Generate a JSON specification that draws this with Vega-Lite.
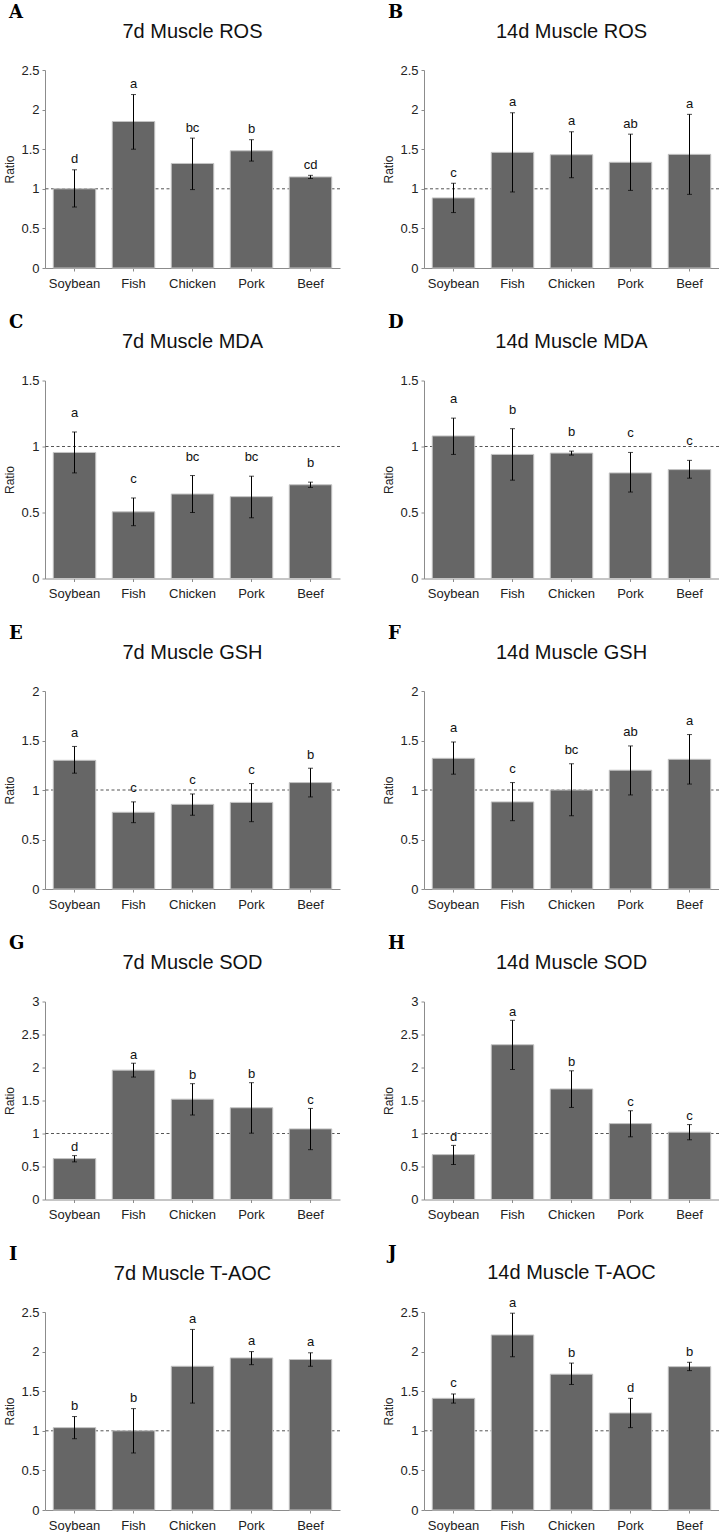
{
"$schema": "https://vega.github.io/schema/vega-lite/v6.json",
"padding": {"left": 3, "top": 3, "right": 0, "bottom": 0},
"datasets": {"d": [
{"p":"A","g":"Soybean","m":1.00,"lo":0.77,"hi":1.24,"t":"d"},
{"p":"A","g":"Fish","m":1.85,"lo":1.50,"hi":2.19,"t":"a"},
{"p":"A","g":"Chicken","m":1.32,"lo":0.99,"hi":1.64,"t":"bc"},
{"p":"A","g":"Pork","m":1.48,"lo":1.35,"hi":1.62,"t":"b"},
{"p":"A","g":"Beef","m":1.15,"lo":1.13,"hi":1.17,"t":"cd"},
{"p":"B","g":"Soybean","m":0.885,"lo":0.70,"hi":1.07,"t":"c"},
{"p":"B","g":"Fish","m":1.46,"lo":0.96,"hi":1.96,"t":"a"},
{"p":"B","g":"Chicken","m":1.43,"lo":1.14,"hi":1.72,"t":"a"},
{"p":"B","g":"Pork","m":1.335,"lo":0.98,"hi":1.69,"t":"ab"},
{"p":"B","g":"Beef","m":1.435,"lo":0.93,"hi":1.94,"t":"a"},
{"p":"C","g":"Soybean","m":0.955,"lo":0.80,"hi":1.11,"t":"a"},
{"p":"C","g":"Fish","m":0.505,"lo":0.40,"hi":0.61,"t":"c"},
{"p":"C","g":"Chicken","m":0.64,"lo":0.50,"hi":0.78,"t":"bc"},
{"p":"C","g":"Pork","m":0.62,"lo":0.46,"hi":0.775,"t":"bc"},
{"p":"C","g":"Beef","m":0.71,"lo":0.69,"hi":0.73,"t":"b"},
{"p":"D","g":"Soybean","m":1.08,"lo":0.94,"hi":1.215,"t":"a"},
{"p":"D","g":"Fish","m":0.94,"lo":0.745,"hi":1.135,"t":"b"},
{"p":"D","g":"Chicken","m":0.95,"lo":0.935,"hi":0.965,"t":"b"},
{"p":"D","g":"Pork","m":0.80,"lo":0.655,"hi":0.955,"t":"c"},
{"p":"D","g":"Beef","m":0.825,"lo":0.76,"hi":0.895,"t":"c"},
{"p":"E","g":"Soybean","m":1.30,"lo":1.17,"hi":1.44,"t":"a"},
{"p":"E","g":"Fish","m":0.775,"lo":0.67,"hi":0.88,"t":"c"},
{"p":"E","g":"Chicken","m":0.855,"lo":0.745,"hi":0.96,"t":"c"},
{"p":"E","g":"Pork","m":0.875,"lo":0.68,"hi":1.065,"t":"c"},
{"p":"E","g":"Beef","m":1.075,"lo":0.93,"hi":1.22,"t":"b"},
{"p":"F","g":"Soybean","m":1.32,"lo":1.16,"hi":1.485,"t":"a"},
{"p":"F","g":"Fish","m":0.88,"lo":0.69,"hi":1.075,"t":"c"},
{"p":"F","g":"Chicken","m":1.00,"lo":0.74,"hi":1.265,"t":"bc"},
{"p":"F","g":"Pork","m":1.20,"lo":0.95,"hi":1.445,"t":"ab"},
{"p":"F","g":"Beef","m":1.31,"lo":1.06,"hi":1.56,"t":"a"},
{"p":"G","g":"Soybean","m":0.62,"lo":0.57,"hi":0.665,"t":"d"},
{"p":"G","g":"Fish","m":1.96,"lo":1.855,"hi":2.065,"t":"a"},
{"p":"G","g":"Chicken","m":1.52,"lo":1.28,"hi":1.755,"t":"b"},
{"p":"G","g":"Pork","m":1.39,"lo":1.005,"hi":1.77,"t":"b"},
{"p":"G","g":"Beef","m":1.07,"lo":0.755,"hi":1.38,"t":"c"},
{"p":"H","g":"Soybean","m":0.68,"lo":0.53,"hi":0.82,"t":"d"},
{"p":"H","g":"Fish","m":2.345,"lo":1.97,"hi":2.715,"t":"a"},
{"p":"H","g":"Chicken","m":1.675,"lo":1.395,"hi":1.95,"t":"b"},
{"p":"H","g":"Pork","m":1.15,"lo":0.95,"hi":1.345,"t":"c"},
{"p":"H","g":"Beef","m":1.02,"lo":0.905,"hi":1.135,"t":"c"},
{"p":"I","g":"Soybean","m":1.04,"lo":0.90,"hi":1.18,"t":"b"},
{"p":"I","g":"Fish","m":1.00,"lo":0.72,"hi":1.28,"t":"b"},
{"p":"I","g":"Chicken","m":1.815,"lo":1.35,"hi":2.28,"t":"a"},
{"p":"I","g":"Pork","m":1.92,"lo":1.835,"hi":2.00,"t":"a"},
{"p":"I","g":"Beef","m":1.90,"lo":1.815,"hi":1.985,"t":"a"},
{"p":"J","g":"Soybean","m":1.41,"lo":1.35,"hi":1.465,"t":"c"},
{"p":"J","g":"Fish","m":2.21,"lo":1.935,"hi":2.485,"t":"a"},
{"p":"J","g":"Chicken","m":1.715,"lo":1.585,"hi":1.855,"t":"b"},
{"p":"J","g":"Pork","m":1.225,"lo":1.04,"hi":1.41,"t":"d"},
{"p":"J","g":"Beef","m":1.81,"lo":1.76,"hi":1.865,"t":"b"}
]},
"data": {"name": "d"},
"columns": 2,
"spacing": {"row": 23.5, "column": 41},
"concat": [
{"title": {"text": "A", "font": "DejaVu Serif", "fontWeight": "bold", "fontSize": 18, "anchor": "start", "frame": "bounds", "offset": 0, "dx": 5, "color": "#000"}, "vconcat": [{"title": {"text": "7d Muscle ROS"}, "width": 295, "height": 198, "transform": [{"filter": "datum.p === 'A'"}], "layer": [
 {"transform": [{"filter": "datum.g === 'Soybean'"}], "mark": {"type": "rule", "strokeDash": [3,2.5], "color": "#555", "strokeWidth": 1}, "encoding": {"y": {"datum": 1, "type": "quantitative", "title": "Ratio", "scale": {"domain": [0,2.5], "nice": false}, "axis": {"values": [0,0.5,1,1.5,2,2.5], "format": "~g"}}}},
 {"mark": {"type": "bar", "color": "#666666", "stroke": "#c4c4c4", "strokeWidth": 1}, "encoding": {"x": {"field": "g", "type": "nominal", "sort": ["Soybean","Fish","Chicken","Pork","Beef"], "title": null, "scale": {"paddingInner": 0.28, "paddingOuter": 0.14}}, "y": {"field": "m", "type": "quantitative", "title": "Ratio", "scale": {"domain": [0,2.5], "nice": false}, "axis": {"values": [0,0.5,1,1.5,2,2.5], "format": "~g"}}}},
 {"mark": {"type": "errorbar", "color": "#000", "ticks": {"size": 5, "color": "#000"}}, "encoding": {"x": {"field": "g", "type": "nominal", "sort": ["Soybean","Fish","Chicken","Pork","Beef"], "title": null}, "y": {"field": "lo", "type": "quantitative", "title": "Ratio", "scale": {"domain": [0,2.5], "nice": false}, "axis": {"values": [0,0.5,1,1.5,2,2.5], "format": "~g"}}, "y2": {"field": "hi"}}},
 {"mark": {"type": "text", "baseline": "alphabetic", "dy": -6.5, "fontSize": 13, "color": "#111"}, "encoding": {"x": {"field": "g", "type": "nominal", "sort": ["Soybean","Fish","Chicken","Pork","Beef"], "title": null}, "y": {"field": "hi", "type": "quantitative", "title": "Ratio", "scale": {"domain": [0,2.5], "nice": false}, "axis": {"values": [0,0.5,1,1.5,2,2.5], "format": "~g"}}, "text": {"field": "t"}}}
]}]},
{"title": {"text": "B", "font": "DejaVu Serif", "fontWeight": "bold", "fontSize": 18, "anchor": "start", "frame": "bounds", "offset": 0, "dx": 5, "color": "#000"}, "vconcat": [{"title": {"text": "14d Muscle ROS"}, "width": 295, "height": 198, "transform": [{"filter": "datum.p === 'B'"}], "layer": [
 {"transform": [{"filter": "datum.g === 'Soybean'"}], "mark": {"type": "rule", "strokeDash": [3,2.5], "color": "#555", "strokeWidth": 1}, "encoding": {"y": {"datum": 1, "type": "quantitative", "title": "Ratio", "scale": {"domain": [0,2.5], "nice": false}, "axis": {"values": [0,0.5,1,1.5,2,2.5], "format": "~g"}}}},
 {"mark": {"type": "bar", "color": "#666666", "stroke": "#c4c4c4", "strokeWidth": 1}, "encoding": {"x": {"field": "g", "type": "nominal", "sort": ["Soybean","Fish","Chicken","Pork","Beef"], "title": null, "scale": {"paddingInner": 0.28, "paddingOuter": 0.14}}, "y": {"field": "m", "type": "quantitative", "title": "Ratio", "scale": {"domain": [0,2.5], "nice": false}, "axis": {"values": [0,0.5,1,1.5,2,2.5], "format": "~g"}}}},
 {"mark": {"type": "errorbar", "color": "#000", "ticks": {"size": 5, "color": "#000"}}, "encoding": {"x": {"field": "g", "type": "nominal", "sort": ["Soybean","Fish","Chicken","Pork","Beef"], "title": null}, "y": {"field": "lo", "type": "quantitative", "title": "Ratio", "scale": {"domain": [0,2.5], "nice": false}, "axis": {"values": [0,0.5,1,1.5,2,2.5], "format": "~g"}}, "y2": {"field": "hi"}}},
 {"mark": {"type": "text", "baseline": "alphabetic", "dy": -6.5, "fontSize": 13, "color": "#111"}, "encoding": {"x": {"field": "g", "type": "nominal", "sort": ["Soybean","Fish","Chicken","Pork","Beef"], "title": null}, "y": {"field": "hi", "type": "quantitative", "title": "Ratio", "scale": {"domain": [0,2.5], "nice": false}, "axis": {"values": [0,0.5,1,1.5,2,2.5], "format": "~g"}}, "text": {"field": "t"}}}
]}]},
{"title": {"text": "C", "font": "DejaVu Serif", "fontWeight": "bold", "fontSize": 18, "anchor": "start", "frame": "bounds", "offset": 0, "dx": 5, "color": "#000"}, "vconcat": [{"title": {"text": "7d Muscle MDA"}, "width": 295, "height": 198, "transform": [{"filter": "datum.p === 'C'"}], "layer": [
 {"transform": [{"filter": "datum.g === 'Soybean'"}], "mark": {"type": "rule", "strokeDash": [3,2.5], "color": "#555", "strokeWidth": 1}, "encoding": {"y": {"datum": 1, "type": "quantitative", "title": "Ratio", "scale": {"domain": [0,1.5], "nice": false}, "axis": {"values": [0,0.5,1,1.5], "format": "~g"}}}},
 {"mark": {"type": "bar", "color": "#666666", "stroke": "#c4c4c4", "strokeWidth": 1}, "encoding": {"x": {"field": "g", "type": "nominal", "sort": ["Soybean","Fish","Chicken","Pork","Beef"], "title": null, "scale": {"paddingInner": 0.28, "paddingOuter": 0.14}}, "y": {"field": "m", "type": "quantitative", "title": "Ratio", "scale": {"domain": [0,1.5], "nice": false}, "axis": {"values": [0,0.5,1,1.5], "format": "~g"}}}},
 {"mark": {"type": "errorbar", "color": "#000", "ticks": {"size": 5, "color": "#000"}}, "encoding": {"x": {"field": "g", "type": "nominal", "sort": ["Soybean","Fish","Chicken","Pork","Beef"], "title": null}, "y": {"field": "lo", "type": "quantitative", "title": "Ratio", "scale": {"domain": [0,1.5], "nice": false}, "axis": {"values": [0,0.5,1,1.5], "format": "~g"}}, "y2": {"field": "hi"}}},
 {"mark": {"type": "text", "baseline": "alphabetic", "dy": -15, "fontSize": 13, "color": "#111"}, "encoding": {"x": {"field": "g", "type": "nominal", "sort": ["Soybean","Fish","Chicken","Pork","Beef"], "title": null}, "y": {"field": "hi", "type": "quantitative", "title": "Ratio", "scale": {"domain": [0,1.5], "nice": false}, "axis": {"values": [0,0.5,1,1.5], "format": "~g"}}, "text": {"field": "t"}}}
]}]},
{"title": {"text": "D", "font": "DejaVu Serif", "fontWeight": "bold", "fontSize": 18, "anchor": "start", "frame": "bounds", "offset": 0, "dx": 5, "color": "#000"}, "vconcat": [{"title": {"text": "14d Muscle MDA"}, "width": 295, "height": 198, "transform": [{"filter": "datum.p === 'D'"}], "layer": [
 {"transform": [{"filter": "datum.g === 'Soybean'"}], "mark": {"type": "rule", "strokeDash": [3,2.5], "color": "#555", "strokeWidth": 1}, "encoding": {"y": {"datum": 1, "type": "quantitative", "title": "Ratio", "scale": {"domain": [0,1.5], "nice": false}, "axis": {"values": [0,0.5,1,1.5], "format": "~g"}}}},
 {"mark": {"type": "bar", "color": "#666666", "stroke": "#c4c4c4", "strokeWidth": 1}, "encoding": {"x": {"field": "g", "type": "nominal", "sort": ["Soybean","Fish","Chicken","Pork","Beef"], "title": null, "scale": {"paddingInner": 0.28, "paddingOuter": 0.14}}, "y": {"field": "m", "type": "quantitative", "title": "Ratio", "scale": {"domain": [0,1.5], "nice": false}, "axis": {"values": [0,0.5,1,1.5], "format": "~g"}}}},
 {"mark": {"type": "errorbar", "color": "#000", "ticks": {"size": 5, "color": "#000"}}, "encoding": {"x": {"field": "g", "type": "nominal", "sort": ["Soybean","Fish","Chicken","Pork","Beef"], "title": null}, "y": {"field": "lo", "type": "quantitative", "title": "Ratio", "scale": {"domain": [0,1.5], "nice": false}, "axis": {"values": [0,0.5,1,1.5], "format": "~g"}}, "y2": {"field": "hi"}}},
 {"mark": {"type": "text", "baseline": "alphabetic", "dy": -15, "fontSize": 13, "color": "#111"}, "encoding": {"x": {"field": "g", "type": "nominal", "sort": ["Soybean","Fish","Chicken","Pork","Beef"], "title": null}, "y": {"field": "hi", "type": "quantitative", "title": "Ratio", "scale": {"domain": [0,1.5], "nice": false}, "axis": {"values": [0,0.5,1,1.5], "format": "~g"}}, "text": {"field": "t"}}}
]}]},
{"title": {"text": "E", "font": "DejaVu Serif", "fontWeight": "bold", "fontSize": 18, "anchor": "start", "frame": "bounds", "offset": 0, "dx": 5, "color": "#000"}, "vconcat": [{"title": {"text": "7d Muscle GSH"}, "width": 295, "height": 198, "transform": [{"filter": "datum.p === 'E'"}], "layer": [
 {"transform": [{"filter": "datum.g === 'Soybean'"}], "mark": {"type": "rule", "strokeDash": [3,2.5], "color": "#555", "strokeWidth": 1}, "encoding": {"y": {"datum": 1, "type": "quantitative", "title": "Ratio", "scale": {"domain": [0,2], "nice": false}, "axis": {"values": [0,0.5,1,1.5,2], "format": "~g"}}}},
 {"mark": {"type": "bar", "color": "#666666", "stroke": "#c4c4c4", "strokeWidth": 1}, "encoding": {"x": {"field": "g", "type": "nominal", "sort": ["Soybean","Fish","Chicken","Pork","Beef"], "title": null, "scale": {"paddingInner": 0.28, "paddingOuter": 0.14}}, "y": {"field": "m", "type": "quantitative", "title": "Ratio", "scale": {"domain": [0,2], "nice": false}, "axis": {"values": [0,0.5,1,1.5,2], "format": "~g"}}}},
 {"mark": {"type": "errorbar", "color": "#000", "ticks": {"size": 5, "color": "#000"}}, "encoding": {"x": {"field": "g", "type": "nominal", "sort": ["Soybean","Fish","Chicken","Pork","Beef"], "title": null}, "y": {"field": "lo", "type": "quantitative", "title": "Ratio", "scale": {"domain": [0,2], "nice": false}, "axis": {"values": [0,0.5,1,1.5,2], "format": "~g"}}, "y2": {"field": "hi"}}},
 {"mark": {"type": "text", "baseline": "alphabetic", "dy": -9.5, "fontSize": 13, "color": "#111"}, "encoding": {"x": {"field": "g", "type": "nominal", "sort": ["Soybean","Fish","Chicken","Pork","Beef"], "title": null}, "y": {"field": "hi", "type": "quantitative", "title": "Ratio", "scale": {"domain": [0,2], "nice": false}, "axis": {"values": [0,0.5,1,1.5,2], "format": "~g"}}, "text": {"field": "t"}}}
]}]},
{"title": {"text": "F", "font": "DejaVu Serif", "fontWeight": "bold", "fontSize": 18, "anchor": "start", "frame": "bounds", "offset": 0, "dx": 5, "color": "#000"}, "vconcat": [{"title": {"text": "14d Muscle GSH"}, "width": 295, "height": 198, "transform": [{"filter": "datum.p === 'F'"}], "layer": [
 {"transform": [{"filter": "datum.g === 'Soybean'"}], "mark": {"type": "rule", "strokeDash": [3,2.5], "color": "#555", "strokeWidth": 1}, "encoding": {"y": {"datum": 1, "type": "quantitative", "title": "Ratio", "scale": {"domain": [0,2], "nice": false}, "axis": {"values": [0,0.5,1,1.5,2], "format": "~g"}}}},
 {"mark": {"type": "bar", "color": "#666666", "stroke": "#c4c4c4", "strokeWidth": 1}, "encoding": {"x": {"field": "g", "type": "nominal", "sort": ["Soybean","Fish","Chicken","Pork","Beef"], "title": null, "scale": {"paddingInner": 0.28, "paddingOuter": 0.14}}, "y": {"field": "m", "type": "quantitative", "title": "Ratio", "scale": {"domain": [0,2], "nice": false}, "axis": {"values": [0,0.5,1,1.5,2], "format": "~g"}}}},
 {"mark": {"type": "errorbar", "color": "#000", "ticks": {"size": 5, "color": "#000"}}, "encoding": {"x": {"field": "g", "type": "nominal", "sort": ["Soybean","Fish","Chicken","Pork","Beef"], "title": null}, "y": {"field": "lo", "type": "quantitative", "title": "Ratio", "scale": {"domain": [0,2], "nice": false}, "axis": {"values": [0,0.5,1,1.5,2], "format": "~g"}}, "y2": {"field": "hi"}}},
 {"mark": {"type": "text", "baseline": "alphabetic", "dy": -9.5, "fontSize": 13, "color": "#111"}, "encoding": {"x": {"field": "g", "type": "nominal", "sort": ["Soybean","Fish","Chicken","Pork","Beef"], "title": null}, "y": {"field": "hi", "type": "quantitative", "title": "Ratio", "scale": {"domain": [0,2], "nice": false}, "axis": {"values": [0,0.5,1,1.5,2], "format": "~g"}}, "text": {"field": "t"}}}
]}]},
{"title": {"text": "G", "font": "DejaVu Serif", "fontWeight": "bold", "fontSize": 18, "anchor": "start", "frame": "bounds", "offset": 0, "dx": 5, "color": "#000"}, "vconcat": [{"title": {"text": "7d Muscle SOD"}, "width": 295, "height": 198, "transform": [{"filter": "datum.p === 'G'"}], "layer": [
 {"transform": [{"filter": "datum.g === 'Soybean'"}], "mark": {"type": "rule", "strokeDash": [3,2.5], "color": "#555", "strokeWidth": 1}, "encoding": {"y": {"datum": 1, "type": "quantitative", "title": "Ratio", "scale": {"domain": [0,3], "nice": false}, "axis": {"values": [0,0.5,1,1.5,2,2.5,3], "format": "~g"}}}},
 {"mark": {"type": "bar", "color": "#666666", "stroke": "#c4c4c4", "strokeWidth": 1}, "encoding": {"x": {"field": "g", "type": "nominal", "sort": ["Soybean","Fish","Chicken","Pork","Beef"], "title": null, "scale": {"paddingInner": 0.28, "paddingOuter": 0.14}}, "y": {"field": "m", "type": "quantitative", "title": "Ratio", "scale": {"domain": [0,3], "nice": false}, "axis": {"values": [0,0.5,1,1.5,2,2.5,3], "format": "~g"}}}},
 {"mark": {"type": "errorbar", "color": "#000", "ticks": {"size": 5, "color": "#000"}}, "encoding": {"x": {"field": "g", "type": "nominal", "sort": ["Soybean","Fish","Chicken","Pork","Beef"], "title": null}, "y": {"field": "lo", "type": "quantitative", "title": "Ratio", "scale": {"domain": [0,3], "nice": false}, "axis": {"values": [0,0.5,1,1.5,2,2.5,3], "format": "~g"}}, "y2": {"field": "hi"}}},
 {"mark": {"type": "text", "baseline": "alphabetic", "dy": -4.5, "fontSize": 13, "color": "#111"}, "encoding": {"x": {"field": "g", "type": "nominal", "sort": ["Soybean","Fish","Chicken","Pork","Beef"], "title": null}, "y": {"field": "hi", "type": "quantitative", "title": "Ratio", "scale": {"domain": [0,3], "nice": false}, "axis": {"values": [0,0.5,1,1.5,2,2.5,3], "format": "~g"}}, "text": {"field": "t"}}}
]}]},
{"title": {"text": "H", "font": "DejaVu Serif", "fontWeight": "bold", "fontSize": 18, "anchor": "start", "frame": "bounds", "offset": 0, "dx": 5, "color": "#000"}, "vconcat": [{"title": {"text": "14d Muscle SOD"}, "width": 295, "height": 198, "transform": [{"filter": "datum.p === 'H'"}], "layer": [
 {"transform": [{"filter": "datum.g === 'Soybean'"}], "mark": {"type": "rule", "strokeDash": [3,2.5], "color": "#555", "strokeWidth": 1}, "encoding": {"y": {"datum": 1, "type": "quantitative", "title": "Ratio", "scale": {"domain": [0,3], "nice": false}, "axis": {"values": [0,0.5,1,1.5,2,2.5,3], "format": "~g"}}}},
 {"mark": {"type": "bar", "color": "#666666", "stroke": "#c4c4c4", "strokeWidth": 1}, "encoding": {"x": {"field": "g", "type": "nominal", "sort": ["Soybean","Fish","Chicken","Pork","Beef"], "title": null, "scale": {"paddingInner": 0.28, "paddingOuter": 0.14}}, "y": {"field": "m", "type": "quantitative", "title": "Ratio", "scale": {"domain": [0,3], "nice": false}, "axis": {"values": [0,0.5,1,1.5,2,2.5,3], "format": "~g"}}}},
 {"mark": {"type": "errorbar", "color": "#000", "ticks": {"size": 5, "color": "#000"}}, "encoding": {"x": {"field": "g", "type": "nominal", "sort": ["Soybean","Fish","Chicken","Pork","Beef"], "title": null}, "y": {"field": "lo", "type": "quantitative", "title": "Ratio", "scale": {"domain": [0,3], "nice": false}, "axis": {"values": [0,0.5,1,1.5,2,2.5,3], "format": "~g"}}, "y2": {"field": "hi"}}},
 {"mark": {"type": "text", "baseline": "alphabetic", "dy": -4.5, "fontSize": 13, "color": "#111"}, "encoding": {"x": {"field": "g", "type": "nominal", "sort": ["Soybean","Fish","Chicken","Pork","Beef"], "title": null}, "y": {"field": "hi", "type": "quantitative", "title": "Ratio", "scale": {"domain": [0,3], "nice": false}, "axis": {"values": [0,0.5,1,1.5,2,2.5,3], "format": "~g"}}, "text": {"field": "t"}}}
]}]},
{"title": {"text": "I", "font": "DejaVu Serif", "fontWeight": "bold", "fontSize": 18, "anchor": "start", "frame": "bounds", "offset": 0, "dx": 5, "color": "#000"}, "vconcat": [{"title": {"text": "7d Muscle T-AOC"}, "width": 295, "height": 198, "transform": [{"filter": "datum.p === 'I'"}], "layer": [
 {"transform": [{"filter": "datum.g === 'Soybean'"}], "mark": {"type": "rule", "strokeDash": [3,2.5], "color": "#555", "strokeWidth": 1}, "encoding": {"y": {"datum": 1, "type": "quantitative", "title": "Ratio", "scale": {"domain": [0,2.5], "nice": false}, "axis": {"values": [0,0.5,1,1.5,2,2.5], "format": "~g"}}}},
 {"mark": {"type": "bar", "color": "#666666", "stroke": "#c4c4c4", "strokeWidth": 1}, "encoding": {"x": {"field": "g", "type": "nominal", "sort": ["Soybean","Fish","Chicken","Pork","Beef"], "title": null, "scale": {"paddingInner": 0.28, "paddingOuter": 0.14}}, "y": {"field": "m", "type": "quantitative", "title": "Ratio", "scale": {"domain": [0,2.5], "nice": false}, "axis": {"values": [0,0.5,1,1.5,2,2.5], "format": "~g"}}}},
 {"mark": {"type": "errorbar", "color": "#000", "ticks": {"size": 5, "color": "#000"}}, "encoding": {"x": {"field": "g", "type": "nominal", "sort": ["Soybean","Fish","Chicken","Pork","Beef"], "title": null}, "y": {"field": "lo", "type": "quantitative", "title": "Ratio", "scale": {"domain": [0,2.5], "nice": false}, "axis": {"values": [0,0.5,1,1.5,2,2.5], "format": "~g"}}, "y2": {"field": "hi"}}},
 {"mark": {"type": "text", "baseline": "alphabetic", "dy": -6.5, "fontSize": 13, "color": "#111"}, "encoding": {"x": {"field": "g", "type": "nominal", "sort": ["Soybean","Fish","Chicken","Pork","Beef"], "title": null}, "y": {"field": "hi", "type": "quantitative", "title": "Ratio", "scale": {"domain": [0,2.5], "nice": false}, "axis": {"values": [0,0.5,1,1.5,2,2.5], "format": "~g"}}, "text": {"field": "t"}}}
]}]},
{"title": {"text": "J", "font": "DejaVu Serif", "fontWeight": "bold", "fontSize": 18, "anchor": "start", "frame": "bounds", "offset": 0, "dx": 5, "color": "#000"}, "vconcat": [{"title": {"text": "14d Muscle T-AOC", "offset": 13.5}, "width": 295, "height": 198, "transform": [{"filter": "datum.p === 'J'"}], "layer": [
 {"transform": [{"filter": "datum.g === 'Soybean'"}], "mark": {"type": "rule", "strokeDash": [3,2.5], "color": "#555", "strokeWidth": 1}, "encoding": {"y": {"datum": 1, "type": "quantitative", "title": "Ratio", "scale": {"domain": [0,2.5], "nice": false}, "axis": {"values": [0,0.5,1,1.5,2,2.5], "format": "~g"}}}},
 {"mark": {"type": "bar", "color": "#666666", "stroke": "#c4c4c4", "strokeWidth": 1}, "encoding": {"x": {"field": "g", "type": "nominal", "sort": ["Soybean","Fish","Chicken","Pork","Beef"], "title": null, "scale": {"paddingInner": 0.28, "paddingOuter": 0.14}}, "y": {"field": "m", "type": "quantitative", "title": "Ratio", "scale": {"domain": [0,2.5], "nice": false}, "axis": {"values": [0,0.5,1,1.5,2,2.5], "format": "~g"}}}},
 {"mark": {"type": "errorbar", "color": "#000", "ticks": {"size": 5, "color": "#000"}}, "encoding": {"x": {"field": "g", "type": "nominal", "sort": ["Soybean","Fish","Chicken","Pork","Beef"], "title": null}, "y": {"field": "lo", "type": "quantitative", "title": "Ratio", "scale": {"domain": [0,2.5], "nice": false}, "axis": {"values": [0,0.5,1,1.5,2,2.5], "format": "~g"}}, "y2": {"field": "hi"}}},
 {"mark": {"type": "text", "baseline": "alphabetic", "dy": -6.5, "fontSize": 13, "color": "#111"}, "encoding": {"x": {"field": "g", "type": "nominal", "sort": ["Soybean","Fish","Chicken","Pork","Beef"], "title": null}, "y": {"field": "hi", "type": "quantitative", "title": "Ratio", "scale": {"domain": [0,2.5], "nice": false}, "axis": {"values": [0,0.5,1,1.5,2,2.5], "format": "~g"}}, "text": {"field": "t"}}}
]}]}
],
"config": {
 "view": {"stroke": null},
 "font": "Liberation Sans",
 "axis": {"grid": false, "domainColor": "#8c8c8c", "tickColor": "#8c8c8c", "tickSize": 3, "labelFontSize": 13, "labelColor": "#222", "titleFontSize": 12, "titleFontWeight": "normal", "titleColor": "#222", "labelFont": "Liberation Sans", "titleFont": "Liberation Sans"},
 "axisX": {"labelAngle": 0, "labelPadding": 6},
 "axisY": {"titlePadding": 4, "labelPadding": 3},
 "title": {"font": "Liberation Sans", "fontSize": 20, "fontWeight": "normal", "color": "#111", "frame": "group", "offset": 22.5},
 "errorbar": {"thickness": 1}
}
}
